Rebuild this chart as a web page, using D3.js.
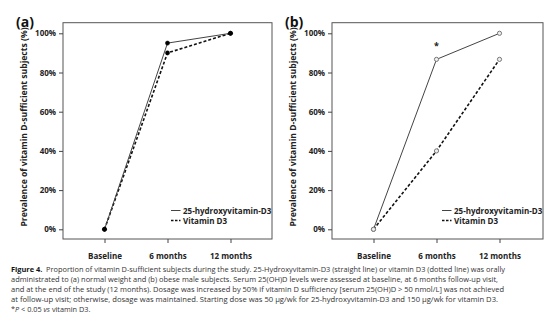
<!DOCTYPE html>
<html>
<head>
<meta charset="utf-8">
<script src="https://cdn.jsdelivr.net/npm/d3@7"></script>
<style>
  body { margin: 0; background: #fff; }
  svg { display: block; }
  text { font-family: "Open Sans", "DejaVu Sans", sans-serif; }
</style>
</head>
<body>
<svg id="fig" width="558" height="335"></svg>
<script>
// visits and y tick values
var visits = ["Baseline", "6 months", "12 months"];
var yTicks = [0, 20, 40, 60, 80, 100];

// panel (a): normal weight subjects
var normalHydroxy = [0, 95, 100];
var normalD3 = [0, 90, 100];

// panel (b): obese subjects
var obeseHydroxy = [0, 86.7, 100];
var obeseD3 = [0, 40, 86.7];

// significance marks (index of visit) for panel b
var obeseSignif = [1];

var seriesNames = ["25-hydroxyvitamin-D3", "Vitamin D3"];

var captionLines = [
  [{t: "Figure 4.", b: true}, {t: "  Proportion of vitamin D-sufficient subjects during the study. 25-Hydroxyvitamin-D3 (straight line) or vitamin D3 (dotted line) was orally"}],
  [{t: "administrated to (a) normal weight and (b) obese male subjects. Serum 25(OH)D levels were assessed at baseline, at 6 months follow-up visit,"}],
  [{t: "and at the end of the study (12 months). Dosage was increased by 50% if vitamin D sufficiency [serum 25(OH)D > 50 nmol/L] was not achieved"}],
  [{t: "at follow-up visit; otherwise, dosage was maintained. Starting dose was 50 \u03bcg/wk for 25-hydroxyvitamin-D3 and 150 \u03bcg/wk for vitamin D3."}],
  [{t: "*"}, {t: "P", i: true}, {t: " < 0.05 "}, {t: "vs", i: true}, {t: " vitamin D3."}]
];
var captionWidths = [494, 487, 493, 487, 0];

var svg = d3.select("#fig");

function drawPanel(opt) {
  var g = svg.append("g");
  var x = d3.scalePoint().domain(visits).range([opt.left + 41.5, opt.left + 167.5]);
  var y = d3.scaleLinear().domain([0, 100]).range([229.3, 33.3]);

  // frame
  g.append("rect")
    .attr("x", opt.left).attr("y", 22.7)
    .attr("width", opt.width).attr("height", 216.3)
    .attr("fill", "none").attr("stroke", "#555").attr("stroke-width", 1);

  var yAxis = g.append("g")
    .attr("transform", "translate(" + opt.left + ",0)")
    .call(d3.axisLeft(y).tickValues(yTicks).tickSize(4).tickPadding(3)
      .tickFormat(function(d) { return d + "%"; }));
  yAxis.select(".domain").remove();
  yAxis.selectAll("text").attr("font-size", 8).attr("font-weight", "bold").attr("fill", "#222")
    .style("font-family", "'Open Sans', sans-serif");
  yAxis.selectAll("line").attr("stroke", "#444");

  var xAxis = g.append("g")
    .attr("transform", "translate(0,239)")
    .call(d3.axisBottom(x).tickSize(4).tickPadding(10));
  xAxis.select(".domain").remove();
  xAxis.selectAll("text").attr("font-size", 8).attr("font-weight", "bold").attr("fill", "#222")
    .style("font-family", "'Open Sans', sans-serif");
  xAxis.selectAll("line").attr("stroke", "#444");

  // y axis title
  g.append("text")
    .attr("transform", "translate(" + (opt.left - 36) + ",127) rotate(-90)")
    .attr("text-anchor", "middle")
    .attr("font-size", 8.6).attr("font-weight", "bold").attr("fill", "#222")
    .text("Prevalence of vitamin D-sufficient subjects (%)");

  // panel letter
  g.append("text")
    .attr("x", opt.left - 47).attr("y", 27)
    .attr("font-size", 14).attr("font-weight", "bold").attr("fill", "#111")
    .text(opt.letter);

  var line = d3.line()
    .x(function(d, i) { return x(visits[i]); })
    .y(function(d) { return y(d); });

  g.append("path").datum(opt.d3)
    .attr("d", line).attr("fill", "none")
    .attr("stroke", "#111").attr("stroke-width", 1.6).attr("stroke-dasharray", "3,2");
  g.append("path").datum(opt.hydroxy)
    .attr("d", line).attr("fill", "none")
    .attr("stroke", "#444").attr("stroke-width", 1);

  [opt.hydroxy, opt.d3].forEach(function(s) {
    g.selectAll(null).data(s).enter().append("circle")
      .attr("cx", function(d, i) { return x(visits[i]); })
      .attr("cy", function(d) { return y(d); })
      .attr("r", opt.open ? 2.1 : 2.1)
      .attr("fill", opt.open ? "#eee" : "#000")
      .attr("stroke", opt.open ? "#777" : "#000")
      .attr("stroke-width", opt.open ? 1 : 0.5);
  });

  (opt.signif || []).forEach(function(i) {
    g.append("text")
      .attr("x", x(visits[i])).attr("y", y(opt.hydroxy[i]) - 10)
      .attr("text-anchor", "middle")
      .attr("font-size", 9).attr("font-weight", "bold").attr("fill", "#222")
      .text("*");
  });

  // legend
  var lg = g.append("g").attr("transform", "translate(" + opt.legendX + ",210.5)");
  seriesNames.forEach(function(name, i) {
    lg.append("line")
      .attr("x1", 0).attr("x2", 9.5)
      .attr("y1", i * 10).attr("y2", i * 10)
      .attr("stroke", i === 0 ? "#444" : "#111")
      .attr("stroke-width", i === 0 ? 1 : 1.6)
      .attr("stroke-dasharray", i === 0 ? null : "2.5,1.5");
    lg.append("text")
      .attr("x", 12).attr("y", i * 10 + 3)
      .attr("font-size", 8).attr("font-weight", "bold").attr("fill", "#222")
      .text(name);
  });
}

drawPanel({left: 63, width: 209, letter: "(a)", hydroxy: normalHydroxy, d3: normalD3,
  open: false, legendX: 171});
drawPanel({left: 332, width: 211, letter: "(b)", hydroxy: obeseHydroxy, d3: obeseD3,
  open: true, signif: obeseSignif, legendX: 442});

// caption
var cap = svg.append("g").attr("fill", "#333");
captionLines.forEach(function(parts, li) {
  var t = cap.append("text")
    .attr("x", 11).attr("y", 272 + li * 10)
    .attr("font-size", 7.3)
    .style("white-space", "pre");
  if (captionWidths[li]) t.attr("textLength", captionWidths[li]).attr("lengthAdjust", "spacingAndGlyphs");
  parts.forEach(function(p) {
    t.append("tspan")
      .attr("font-weight", p.b ? "bold" : null)
      .attr("font-style", p.i ? "italic" : null)
      .attr("fill", p.b ? "#111" : null)
      .text(p.t);
  });
});
</script>
</body>
</html>
